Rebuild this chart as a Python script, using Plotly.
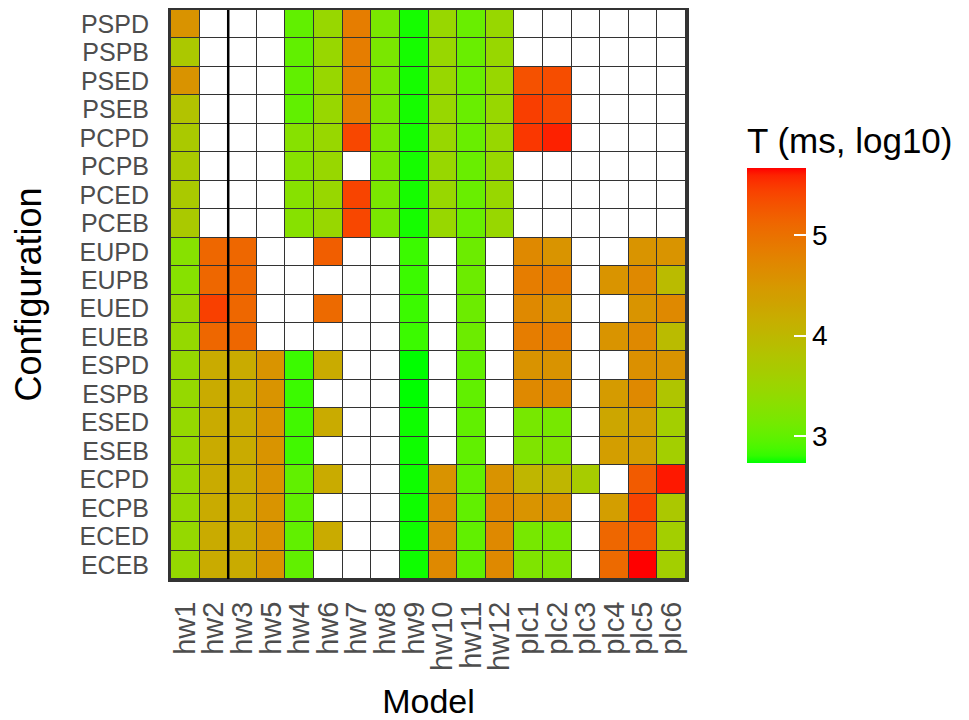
import plotly.graph_objects as go

models = ["hw1", "hw2", "hw3", "hw5", "hw4", "hw6", "hw7", "hw8", "hw9", "hw10",
          "hw11", "hw12", "plc1", "plc2", "plc3", "plc4", "plc5", "plc6"]
configs = ["PSPD", "PSPB", "PSED", "PSEB", "PCPD", "PCPB", "PCED", "PCEB",
           "EUPD", "EUPB", "EUED", "EUEB", "ESPD", "ESPB", "ESED", "ESEB",
           "ECPD", "ECPB", "ECED", "ECEB"]
N = None
# log10 of time (ms); columns follow `models`
PSPD = [4.55, N, N, N, 3.00, 3.47, 4.85, 3.17, 2.76, 3.47, 3.05, 3.47, N, N, N, N, N, N]
PSPB = [3.72, N, N, N, 3.00, 3.47, 4.85, 3.17, 2.76, 3.47, 3.05, 3.47, N, N, N, N, N, N]
PSED = [4.55, N, N, N, 3.00, 3.47, 4.85, 3.17, 2.76, 3.47, 3.05, 3.47, 5.32, 5.35, N, N, N, N]
PSEB = [3.82, N, N, N, 3.00, 3.47, 4.85, 3.17, 2.76, 3.47, 3.05, 3.47, 5.46, 5.38, N, N, N, N]
PCPD = [3.70, N, N, N, 3.29, 3.47, 5.40, 3.17, 2.76, 3.47, 3.05, 3.47, 5.50, 5.60, N, N, N, N]
PCPB = [3.70, N, N, N, 3.29, 3.47, N, 3.17, 2.76, 3.47, 3.05, 3.47, N, N, N, N, N, N]
PCED = [3.70, N, N, N, 3.29, 3.47, 5.42, 3.17, 2.76, 3.47, 3.05, 3.47, N, N, N, N, N, N]
PCEB = [3.70, N, N, N, 3.29, 3.47, 5.40, 3.17, 2.76, 3.47, 3.05, 3.47, N, N, N, N, N, N]
EUPD = [3.29, 5.11, 5.11, N, N, 5.20, N, N, 2.83, N, 3.07, N, 4.70, 4.54, N, N, 4.54, 4.54]
EUPB = [3.29, 5.11, 5.11, N, N, N, N, N, 2.83, N, 3.07, N, 4.85, 4.85, N, 4.54, 4.70, 3.94]
EUED = [3.43, 5.45, 5.11, N, N, 5.08, N, N, 2.83, N, 3.07, N, 4.70, 4.54, N, N, 4.54, 4.70]
EUEB = [3.43, 5.11, 5.11, N, N, N, N, N, 2.83, N, 3.07, N, 4.85, 4.85, N, 4.54, 4.70, 3.94]
ESPD = [3.43, 4.20, 4.20, 4.54, 2.83, 4.20, N, N, 2.73, N, 3.00, N, 4.55, 4.55, N, N, 4.60, 4.55]
ESPB = [3.43, 4.20, 4.20, 4.54, 2.83, N, N, N, 2.73, N, 3.00, N, 4.70, 4.70, N, 4.45, 4.70, 3.78]
ESED = [3.43, 4.20, 4.20, 4.54, 2.85, 4.20, N, N, 2.75, N, 3.00, N, 3.15, 3.15, N, 4.28, 4.41, 3.60]
ESEB = [3.43, 4.20, 4.20, 4.54, 2.85, N, N, N, 2.75, N, 3.00, N, 3.22, 3.22, N, 4.41, 4.41, 3.60]
ECPD = [3.43, 4.20, 4.20, 4.54, 3.00, 4.20, N, N, 2.75, 4.55, 3.00, 4.55, 4.02, 4.02, 3.65, N, 5.23, 5.62]
ECPB = [3.43, 4.20, 4.20, 4.54, 3.00, N, N, N, 2.75, 4.70, 3.00, 4.70, 4.54, 4.54, N, 4.41, 5.43, 3.72]
ECED = [3.43, 4.20, 4.20, 4.54, 3.00, 4.20, N, N, 2.75, 4.70, 3.00, 4.70, 3.15, 3.15, N, 5.11, 5.25, 3.60]
ECEB = [3.43, 4.20, 4.20, 4.54, 3.00, N, N, N, 2.75, 4.70, 3.00, 4.70, 3.22, 3.22, N, 5.08, 5.67, 3.60]

z = [PSPD, PSPB, PSED, PSEB, PCPD, PCPB, PCED, PCEB, EUPD, EUPB, EUED, EUEB,
     ESPD, ESPB, ESED, ESEB, ECPD, ECPB, ECED, ECEB]
colorbar_ticks = [3, 4, 5]


# green -> red gradient interpolated in CIE Lab (like ggplot2 scale_fill_gradient)
def _lin(c):
    c = c / 255.0
    return c / 12.92 if c <= 0.04045 else ((c + 0.055) / 1.055) ** 2.4


def _to_lab(rgb):
    r, g, b = (_lin(v) for v in rgb)
    X = (0.4124 * r + 0.3576 * g + 0.1805 * b) / 0.95047
    Y = (0.2126 * r + 0.7152 * g + 0.0722 * b)
    Z = (0.0193 * r + 0.1192 * g + 0.9505 * b) / 1.08883

    def f(t):
        return t ** (1 / 3) if t > 0.008856 else 7.787 * t + 16 / 116
    fx, fy, fz = f(X), f(Y), f(Z)
    return 116 * fy - 16, 500 * (fx - fy), 200 * (fy - fz)


def _to_rgb(lab):
    L, a, b = lab
    fy = (L + 16) / 116
    fx = fy + a / 500
    fz = fy - b / 200

    def finv(t):
        return t ** 3 if t ** 3 > 0.008856 else (t - 16 / 116) / 7.787
    X, Y, Z = 0.95047 * finv(fx), finv(fy), 1.08883 * finv(fz)
    r = 3.2406 * X - 1.5372 * Y - 0.4986 * Z
    g = -0.9689 * X + 1.8758 * Y + 0.0415 * Z
    bb = 0.0557 * X - 0.2040 * Y + 1.0570 * Z

    def enc(c):
        c = min(max(c, 0.0), 1.0)
        c = 12.92 * c if c <= 0.0031308 else 1.055 * c ** (1 / 2.4) - 0.055
        return int(round(min(max(c, 0.0), 1.0) * 255))
    return "rgb(%d,%d,%d)" % (enc(r), enc(g), enc(bb))


lo, hi = _to_lab((0, 255, 0)), _to_lab((255, 0, 0))
nstops = 41
colorscale = []
for i in range(nstops):
    t = i / (nstops - 1)
    lab = tuple(lo[k] + (hi[k] - lo[k]) * t for k in range(3))
    colorscale.append([t, _to_rgb(lab)])

FONT = "Liberation Sans, Arial, sans-serif"

fig = go.Figure()
# white background cells (NA tiles)
fig.add_trace(go.Heatmap(
    x=models, y=configs, z=[[0] * len(models) for _ in configs],
    colorscale=[[0, "white"], [1, "white"]], showscale=False,
    xgap=1, ygap=1, hoverinfo="skip"))
fig.add_trace(go.Heatmap(
    x=models, y=configs, z=z, colorscale=colorscale,
    xgap=1, ygap=1,
    colorbar=dict(
        title=dict(text="T (ms, log10)", side="top",
                   font=dict(size=35, color="black", family=FONT)),
        x=1.1184, xanchor="left", xpad=0,
        y=0.2039, yanchor="bottom", ypad=0,
        len=339, lenmode="pixels", thickness=59, thicknessmode="pixels",
        outlinewidth=0, ticks="inside", ticklen=12, tickcolor="white",
        tickwidth=1.5, tickvals=colorbar_ticks,
        tickfont=dict(size=28, color="black", family=FONT)),
))

fig.add_shape(type="line", xref="x", yref="paper", x0=1.5, x1=1.5, y0=0, y1=1,
              line=dict(color="black", width=2.5))

fig.update_layout(
    width=961, height=712,
    margin=dict(l=163, r=283, t=2, b=141),
    paper_bgcolor="white", plot_bgcolor="#333333",
    font=dict(family=FONT),
    xaxis=dict(type="category", categoryorder="array", categoryarray=models,
               tickmode="array", tickvals=models, ticktext=models,
               tickangle=-90, tickfont=dict(size=29, color="#4D4D4D"),
               showgrid=False, zeroline=False, ticks="", ticklabelstandoff=8,
               showline=True, linecolor="#333333", linewidth=3, mirror=True,
               automargin=False,
               title=dict(text="Model", font=dict(size=34, color="black"), standoff=20)),
    yaxis=dict(type="category", categoryorder="array", categoryarray=configs,
               tickmode="array", tickvals=configs, ticktext=configs,
               autorange="reversed", tickfont=dict(size=25, color="#4D4D4D"),
               showgrid=False, zeroline=False, ticks="", ticklabelstandoff=14,
               showline=True, linecolor="#333333", linewidth=3, mirror=True,
               automargin=False,
               title=dict(text="Configuration", font=dict(size=36, color="black"), standoff=34)),
)

fig.write_html("out.html")
